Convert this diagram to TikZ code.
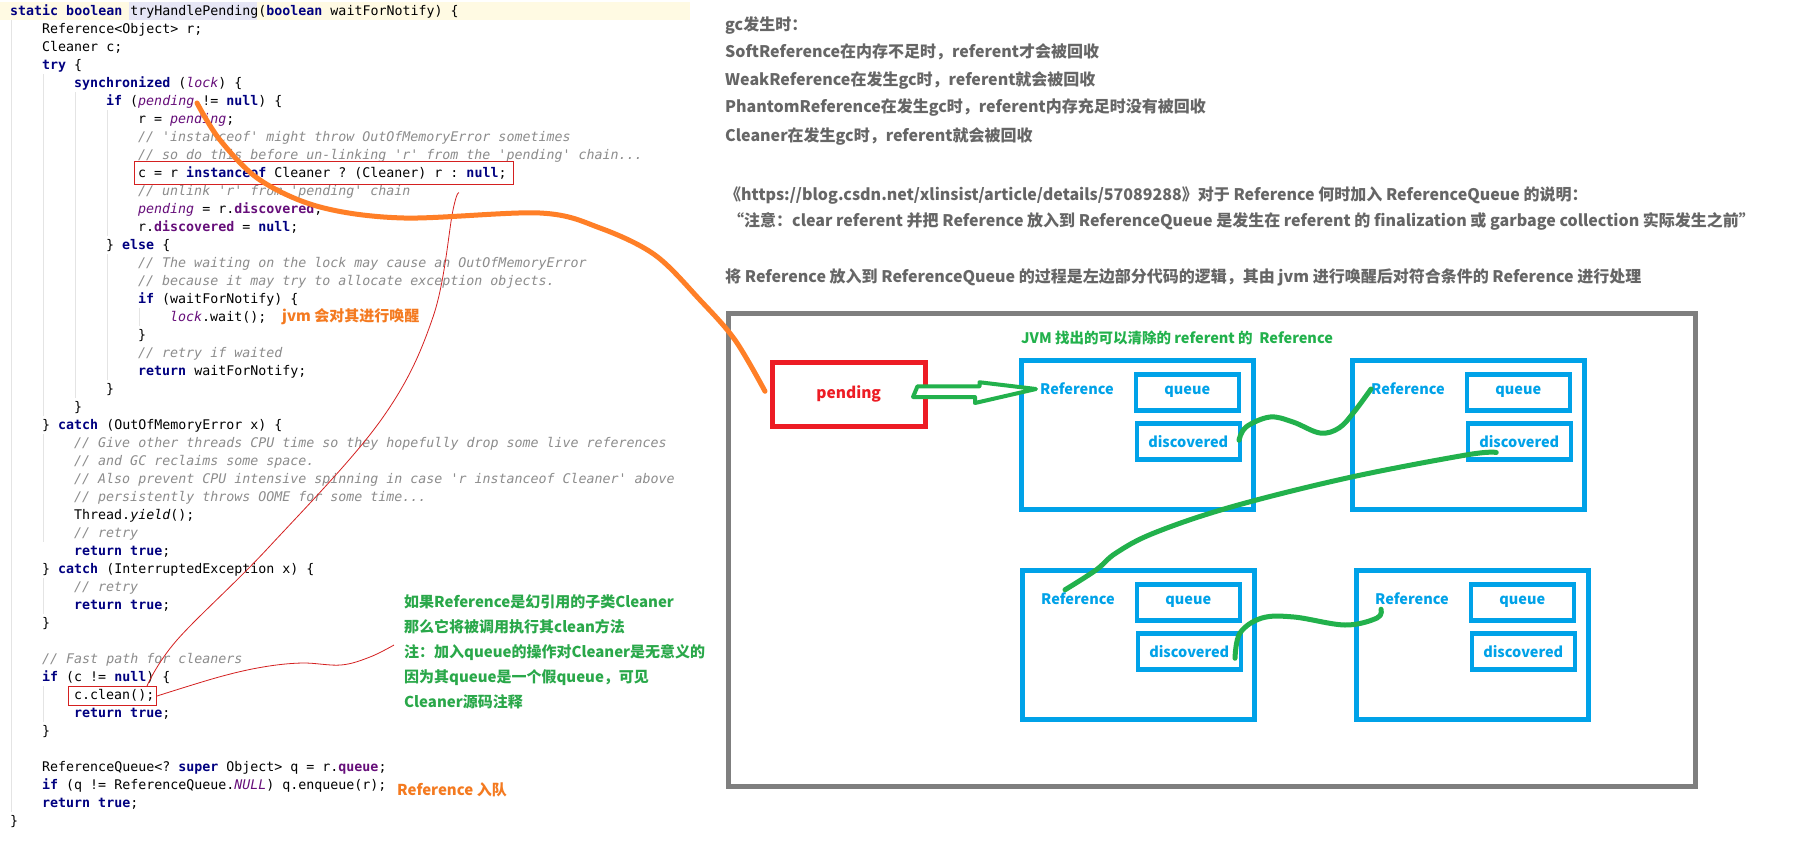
\documentclass[tikz,border=0pt]{standalone}
\usepackage{fontspec}
\setmonofont{DejaVu Sans Mono}
\newfontfamily\cjk{Noto Sans CJK SC}
\usepackage{xcolor}
\usetikzlibrary{positioning,calc}
\definecolor{kwnavy}{HTML}{000080}
\definecolor{cmgray}{HTML}{8C8C8C}
\definecolor{fldpurple}{HTML}{660E7A}
\definecolor{caretrow}{HTML}{FFFAE3}
\definecolor{identhl}{HTML}{E6E6F5}
\definecolor{guidegray}{HTML}{E4E4E4}
\definecolor{mkred}{HTML}{D42020}
\definecolor{paintred}{HTML}{ED1C24}
\definecolor{paintorange}{HTML}{FF7F27}
\definecolor{paintgreen}{HTML}{22B14C}
\definecolor{paintblue}{HTML}{00A2E8}
\definecolor{paintgray}{HTML}{7F7F7F}
\definecolor{notegray}{HTML}{666666}
\definecolor{notegreen}{HTML}{2AA84A}
\definecolor{noteorange}{HTML}{F47A20}

\newcommand\kw[1]{\textcolor{kwnavy}{\bfseries #1}}
\newcommand\cmt[1]{\textcolor{cmgray}{\itshape #1}}
\newcommand\fld[1]{\textcolor{fldpurple}{\bfseries #1}}
\newcommand\sfld[1]{\textcolor{fldpurple}{\itshape #1}}
% one source line: number, indent level, text
\newcommand\codeln[3]{\node[codetxt] (ln#1) at ({10+32*#2},{15.5+18*(#1-1)}) {#3};}

\begin{document}
\begin{tikzpicture}[
  x=1pt, y=-1pt,
  codetxt/.style={anchor=base west, inner sep=0pt, font=\ttfamily\fontsize{13.3}{16}\selectfont},
  guide/.style={guidegray, line width=0.8pt},
  markbox/.style={draw=mkred, line width=1pt, anchor=north west, inner sep=0pt},
  markline/.style={mkred, line width=0.8pt},
  note/.style={anchor=west, inner sep=0pt, text=notegray, font=\cjk\bfseries\fontsize{16}{19}\selectfont},
  greennote/.style={anchor=west, inner sep=0pt, align=left, text=notegreen, font=\cjk\bfseries\fontsize{15}{25}\selectfont},
  orangenote/.style={anchor=west, inner sep=0pt, text=noteorange, font=\cjk\bfseries\fontsize{15}{18}\selectfont},
  frame/.style={draw=paintgray, line width=5pt, anchor=north west, minimum width=967, minimum height=473},
  pendbox/.style={draw=paintred, line width=4.5pt, anchor=north west, minimum width=153, minimum height=64, text=paintred, font=\cjk\bfseries\fontsize{15.5}{18}\selectfont},
  refbox/.style={draw=paintblue, line width=5pt, anchor=north west, minimum width=232, minimum height=149},
  fieldbox/.style={draw=paintblue, line width=4.5pt, anchor=north east, minimum width=103, minimum height=36, text=paintblue, font=\cjk\bfseries\fontsize{14.5}{17}\selectfont},
  reftxt/.style={anchor=west, inner sep=0pt, text=paintblue, font=\cjk\bfseries\fontsize{14.5}{17}\selectfont},
  stroke/.style={line width=5pt, line cap=round, line join=round},
]
\useasboundingbox (0,0) rectangle (1804,844);
\fill[white] (0,0) rectangle (1804,844);

% editor background
\fill[caretrow] (0,2) rectangle (690,20);
\fill[identhl] (129,2) rectangle (257,20);
\foreach \gx/\ga/\gb in {11/20/812, 43/74/416, 75/92/398, 107/110/236, 107/254/380, 139/308/326, 43/434/542, 43/578/614, 43/686/722}
  \draw[guide] (\gx,\ga) -- (\gx,\gb);

% source code
\codeln{1}{0}{\kw{static boolean} tryHandlePending(\kw{boolean} waitForNotify) \{}
\codeln{2}{1}{Reference<Object> r;}
\codeln{3}{1}{Cleaner c;}
\codeln{4}{1}{\kw{try} \{}
\codeln{5}{2}{\kw{synchronized} (\sfld{lock}) \{}
\codeln{6}{3}{\kw{if} (\sfld{pending} != \kw{null}) \{}
\codeln{7}{4}{r = \sfld{pending};}
\codeln{8}{4}{\cmt{// 'instanceof' might throw OutOfMemoryError sometimes}}
\codeln{9}{4}{\cmt{// so do this before un-linking 'r' from the 'pending' chain...}}
\codeln{10}{4}{c = r \kw{instanceof} Cleaner ? (Cleaner) r : \kw{null};}
\codeln{11}{4}{\cmt{// unlink 'r' from 'pending' chain}}
\codeln{12}{4}{\sfld{pending} = r.\fld{discovered};}
\codeln{13}{4}{r.\fld{discovered} = \kw{null};}
\codeln{14}{3}{\} \kw{else} \{}
\codeln{15}{4}{\cmt{// The waiting on the lock may cause an OutOfMemoryError}}
\codeln{16}{4}{\cmt{// because it may try to allocate exception objects.}}
\codeln{17}{4}{\kw{if} (waitForNotify) \{}
\codeln{18}{5}{\sfld{lock}.wait();}
\codeln{19}{4}{\}}
\codeln{20}{4}{\cmt{// retry if waited}}
\codeln{21}{4}{\kw{return} waitForNotify;}
\codeln{22}{3}{\}}
\codeln{23}{2}{\}}
\codeln{24}{1}{\} \kw{catch} (OutOfMemoryError x) \{}
\codeln{25}{2}{\cmt{// Give other threads CPU time so they hopefully drop some live references}}
\codeln{26}{2}{\cmt{// and GC reclaims some space.}}
\codeln{27}{2}{\cmt{// Also prevent CPU intensive spinning in case 'r instanceof Cleaner' above}}
\codeln{28}{2}{\cmt{// persistently throws OOME for some time...}}
\codeln{29}{2}{Thread.\textit{yield}();}
\codeln{30}{2}{\cmt{// retry}}
\codeln{31}{2}{\kw{return true};}
\codeln{32}{1}{\} \kw{catch} (InterruptedException x) \{}
\codeln{33}{2}{\cmt{// retry}}
\codeln{34}{2}{\kw{return true};}
\codeln{35}{1}{\}}
\codeln{37}{1}{\cmt{// Fast path for cleaners}}
\codeln{38}{1}{\kw{if} (c != \kw{null}) \{}
\codeln{39}{2}{c.clean();}
\codeln{40}{2}{\kw{return true};}
\codeln{41}{1}{\}}
\codeln{43}{1}{ReferenceQueue<? \kw{super} Object> q = r.\fld{queue};}
\codeln{44}{1}{\kw{if} (q != ReferenceQueue.\sfld{NULL}) q.enqueue(r);}
\codeln{45}{1}{\kw{return true};}
\codeln{46}{0}{\}}

% marks on the code
\node[markbox, minimum width=379, minimum height=23] (mkcast) at (134,161) {};
\node[markbox, minimum width=88, minimum height=19] (mkclean) at (68,686) {};
\node[orangenote] (wakeup) at (282,317) {jvm 会对其进行唤醒};
\node[orangenote] (enq) at (397,790) {Reference 入队};
\node[greennote] (cleannote) at (404,652) {如果Reference是幻引用的子类Cleaner\\那么它将被调用执行其clean方法\\注：加入queue的操作对Cleaner是无意义的\\因为其queue是一个假queue，可见\\Cleaner源码注释};
\coordinate (pendword) at (197,103);
\draw[markline] plot[smooth, tension=0.6] coordinates {([shift={(-55,8)}]mkcast.south east) (453,210) (433,317) (381,420) (269,547) (177,640) ([shift={(-10,0)}]mkclean.north east)};
\draw[markline] plot[smooth, tension=0.6] coordinates {(mkclean.east) (219,677) (263,667) (302,663) (341,665) (370,657) ([shift={(-10,-7)}]cleannote.west)};

% notes on the right
\node[note] (gc0) at (725,25) {gc发生时：};
\node[note] (gc1) at (725,52) {SoftReference在内存不足时，referent才会被回收};
\node[note] (gc2) at (725,80) {WeakReference在发生gc时，referent就会被回收};
\node[note] (gc3) at (725,107) {PhantomReference在发生gc时，referent内存充足时没有被回收};
\node[note] (gc4) at (725,136) {Cleaner在发生gc时，referent就会被回收};
\node[note] (src) at (725,196) {《https://blog.csdn.net/xlinsist/article/details/57089288》对于 Reference 何时加入 ReferenceQueue 的说明：};
\node[note] (quote) at (728,221) {“注意：clear referent 并把 Reference 放入到 ReferenceQueue 是发生在 referent 的 finalization 或 garbage collection 实际发生之前”};
\node[note] (summary) at (725,277) {将 Reference 放入到 ReferenceQueue 的过程是左边部分代码的逻辑，其由 jvm 进行唤醒后对符合条件的 Reference 进行处理};

% pending list
\node[frame] (frm) at (726,311) {};
\node[anchor=west, inner sep=0pt, text=paintgreen, font=\cjk\bfseries\fontsize{14.5}{17}\selectfont] (jvmttl) at (1021,338) {JVM 找出的可以清除的 referent 的\ \ Reference};
\node[pendbox] (pend) at (770,360) {pending};

\node[refbox] (ra) at (1019,358) {};
\node[refbox] (rb) at (1350,358) {};
\node[refbox] (rc) at (1020,568) {};
\node[refbox] (rd) at (1354,568) {};
\foreach \r in {a,b,c,d} {
  \node[reftxt] (ref\r) at ([shift={(21,31)}]r\r.north west) {Reference};
  \node[fieldbox] (q\r) at ([shift={(-15,14)}]r\r.north east) {queue};
  \node[fieldbox] (d\r) at ([shift={(-14,63)}]r\r.north east) {discovered};
}

% links
\draw[stroke, paintorange] plot[smooth, tension=0.55] coordinates {(pendword) (220,140) (260,180) (320,207) (404,218) (540,213) (600,228) (655,255) (700,300) (735,340) ([shift={(-5,-3)}]pend.west)};
\draw[paintgreen, line width=4pt, line join=round, fill=white] ([shift={(-10,-8)}]pend.east) -- ++(62,0) -- ++(0,-4) -- ([shift={(-4,0)}]refa.west) -- ++(-61,14) -- ++(0,-6) -- ++(-62,0) -- cycle;
\draw[stroke, paintgreen] plot[smooth, tension=0.6] coordinates {([shift={(-3,-1)}]da.east) (1246,427) (1270,417) (1293,422) (1320,433) (1339,428) (1354,412) (refb.west)};
\draw[stroke, paintgreen] plot[smooth, tension=0.6] coordinates {([shift={(-23,-9)}]db.south) (1466,455) (1347,478) (1231,507) (1154,533) (1116,553) (1096,570) ([shift={(-13,-3)}]refc.north)};
\draw[stroke, paintgreen] plot[smooth, tension=0.6] coordinates {([shift={(-8,7)}]dc.east) (1240,633) (1262,618) (1294,617) (1345,625) (1377,618) ([shift={(6,4)}]refd.south west)};
\end{tikzpicture}
\end{document}
